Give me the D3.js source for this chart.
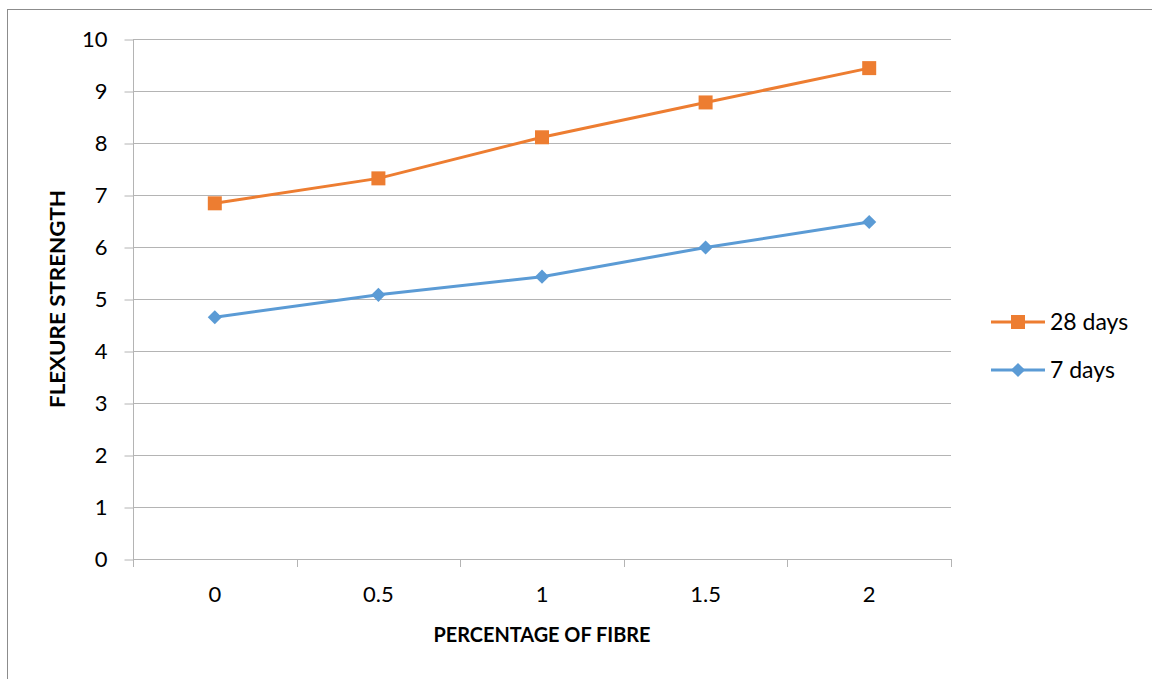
<!DOCTYPE html>
<html>
<head>
<meta charset="utf-8">
<script src="https://cdn.jsdelivr.net/npm/d3@7"></script>
<style>
  body { margin: 0; background: #fff; }
  text { font-family: Lato, "Open Sans", sans-serif; fill: #000; }
  .axis path { display: none; }
  .axis line { stroke: #b4b4b4; }
</style>
</head>
<body>
<div id="chart"></div>
<script>
// chart data
let fibre = ["0", "0.5", "1", "1.5", "2"]
let days28 = [6.84, 7.32, 8.11, 8.78, 9.44]
let days7 = [4.65, 5.08, 5.43, 5.99, 6.48]
let yTicks = [0, 1, 2, 3, 4, 5, 6, 7, 8, 9, 10]
let seriesNames = ["28 days", "7 days"]

let totalWidth = 1152
let totalHeight = 679
let plot = {left: 133, right: 951, top: 39, bottom: 559}

let svg = d3.select("#chart").append("svg")
    .attr("width", totalWidth)
    .attr("height", totalHeight)

// outer chart border
svg.append("rect")
    .attr("x", 7.5)
    .attr("y", 9.5)
    .attr("width", 1150)
    .attr("height", 700)
    .attr("fill", "none")
    .attr("stroke", "#8c8c8c")

let xScale = d3.scaleBand()
    .domain(fibre)
    .range([plot.left, plot.right])

let yScale = d3.scaleLinear()
    .domain([0, 10])
    .range([plot.bottom, plot.top])

let xPos = d => xScale(d) + xScale.bandwidth() / 2

// horizontal grid lines
svg.append("g")
    .selectAll("line")
    .data(yTicks)
    .enter()
    .append("line")
    .attr("x1", plot.left)
    .attr("x2", plot.right)
    .attr("y1", d => Math.round(yScale(d)) + 0.5)
    .attr("y2", d => Math.round(yScale(d)) + 0.5)
    .attr("stroke", "#b4b4b4")

// y axis
let yAxis = d3.axisLeft(yScale)
    .tickValues(yTicks)
    .tickSize(9)
    .tickPadding(17)

svg.append("g")
    .attr("class", "axis y-axis")
    .attr("transform", "translate(" + (plot.left + 0.5) + ",0.5)")
    .call(yAxis)
    .selectAll("text")
    .style("font-size", "22px")

svg.append("line")
    .attr("x1", plot.left + 0.5)
    .attr("x2", plot.left + 0.5)
    .attr("y1", plot.top)
    .attr("y2", plot.bottom)
    .attr("stroke", "#b4b4b4")

// x axis: labels at category centres, ticks at category edges
let xAxis = d3.axisBottom(xScale)
    .tickSize(0)
    .tickPadding(27)

svg.append("g")
    .attr("class", "axis x-axis")
    .attr("transform", "translate(0," + plot.bottom + ")")
    .call(xAxis)
    .selectAll("text")
    .style("font-size", "22px")

let edges = fibre.map(d => xScale(d)).concat([plot.right])
svg.append("g")
    .selectAll("line")
    .data(edges)
    .enter()
    .append("line")
    .attr("x1", d => Math.round(d) + 0.5)
    .attr("x2", d => Math.round(d) + 0.5)
    .attr("y1", plot.bottom)
    .attr("y2", plot.bottom + 8)
    .attr("stroke", "#b4b4b4")

// axis titles
svg.append("text")
    .attr("x", 542)
    .attr("y", 642)
    .attr("text-anchor", "middle")
    .attr("textLength", 217)
    .attr("lengthAdjust", "spacingAndGlyphs")
    .style("font-size", "21px")
    .style("font-weight", "bold")
    .text("PERCENTAGE OF FIBRE")

svg.append("text")
    .attr("transform", "translate(65," + ((plot.top + plot.bottom) / 2) + ") rotate(-90)")
    .attr("text-anchor", "middle")
    .attr("textLength", 218)
    .attr("lengthAdjust", "spacingAndGlyphs")
    .style("font-size", "21px")
    .style("font-weight", "bold")
    .text("FLEXURE STRENGTH")

// lines and markers
let line = d3.line()
    .x((d, i) => xPos(fibre[i]))
    .y(d => yScale(d))

let colors = {"28 days": "#ed7d31", "7 days": "#5b9bd5"}

svg.append("path")
    .datum(days7)
    .attr("d", line)
    .attr("fill", "none")
    .attr("stroke", colors["7 days"])
    .attr("stroke-width", 3)

svg.append("path")
    .datum(days28)
    .attr("d", line)
    .attr("fill", "none")
    .attr("stroke", colors["28 days"])
    .attr("stroke-width", 3)

let square = d3.symbol().type(d3.symbolSquare).size(196)
let diamond = d3.symbol().type(d3.symbolSquare).size(100)

svg.append("g")
    .selectAll("path")
    .data(days28)
    .enter()
    .append("path")
    .attr("d", square)
    .attr("transform", (d, i) => "translate(" + xPos(fibre[i]) + "," + yScale(d) + ")")
    .attr("fill", colors["28 days"])

svg.append("g")
    .selectAll("path")
    .data(days7)
    .enter()
    .append("path")
    .attr("d", diamond)
    .attr("transform", (d, i) => "translate(" + xPos(fibre[i]) + "," + yScale(d) + ") rotate(45)")
    .attr("fill", colors["7 days"])

// legend
let legend = svg.append("g")
    .selectAll("g")
    .data(seriesNames)
    .enter()
    .append("g")
    .attr("transform", (d, i) => "translate(991," + (322 + i * 48) + ")")

legend.append("line")
    .attr("x1", 0)
    .attr("x2", 54)
    .attr("stroke", d => colors[d])
    .attr("stroke-width", 3)

legend.append("path")
    .attr("d", d => d == "28 days" ? square() : diamond())
    .attr("transform", d => d == "28 days" ? "translate(27,0)" : "translate(27,0) rotate(45)")
    .attr("fill", d => colors[d])

legend.append("text")
    .attr("x", 59)
    .attr("dy", "0.36em")
    .style("font-size", "23px")
    .text(d => d)
</script>
</body>
</html>
